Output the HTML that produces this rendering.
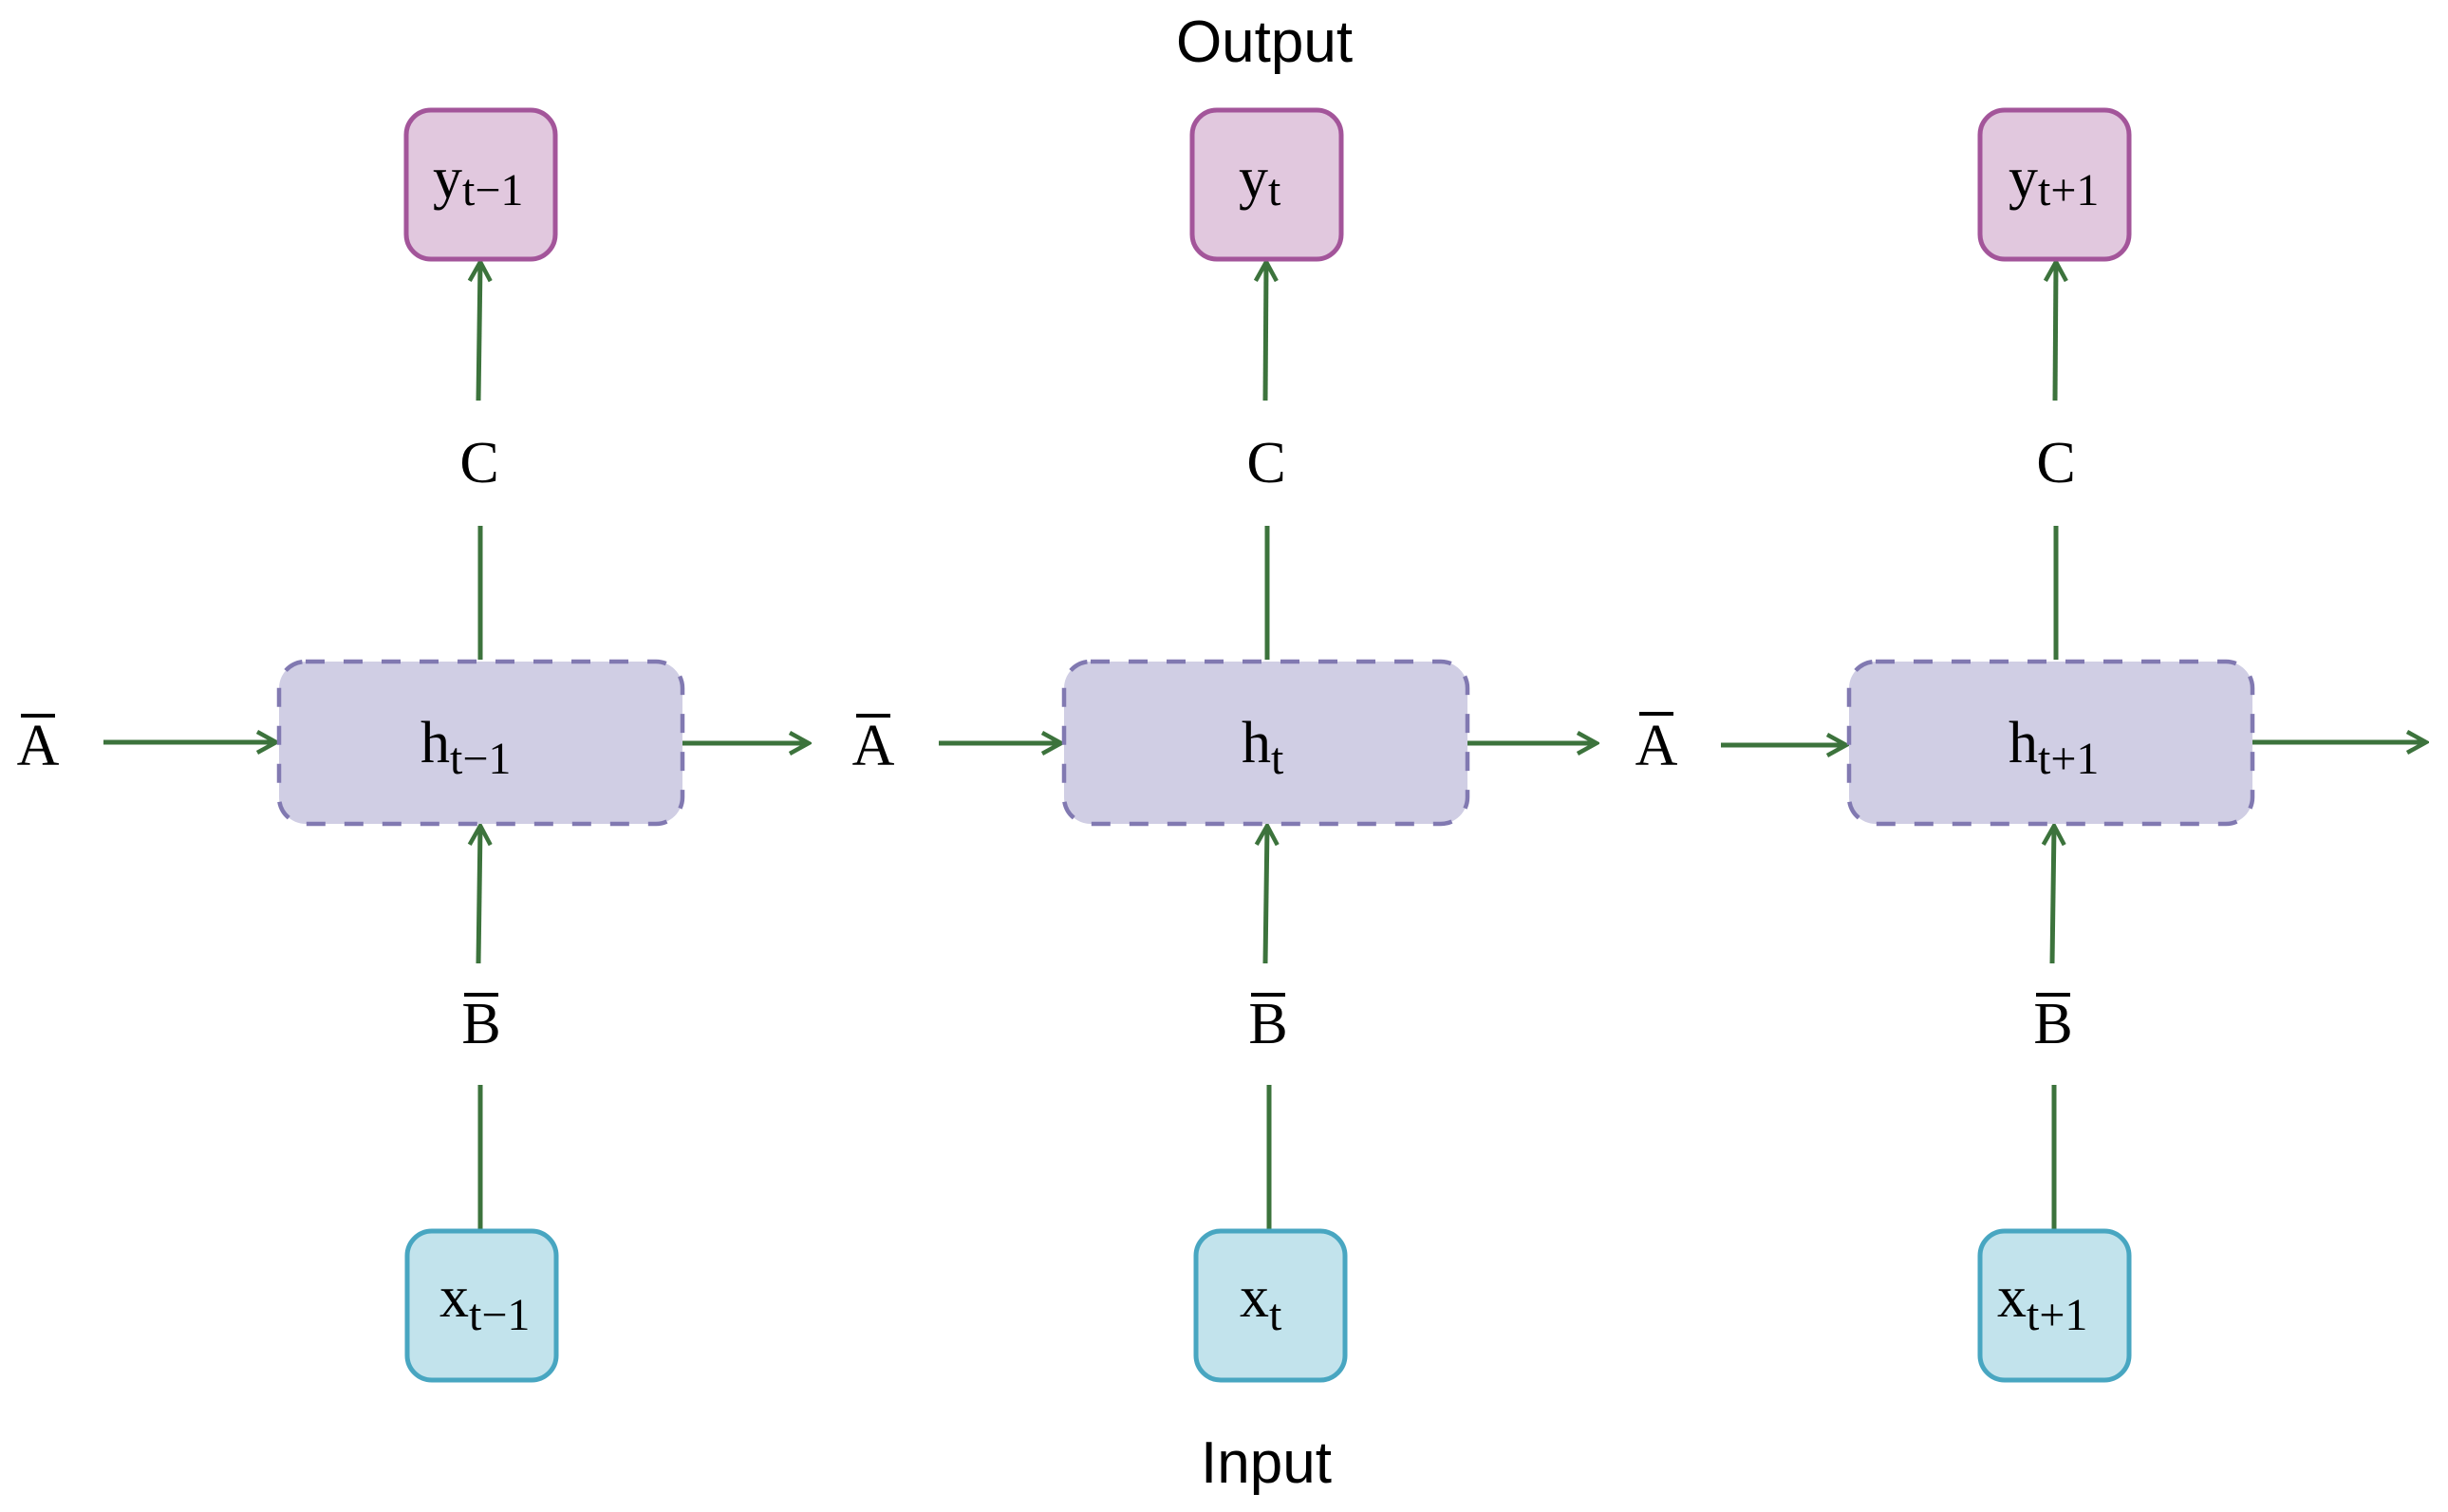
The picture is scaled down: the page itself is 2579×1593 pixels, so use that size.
<!DOCTYPE html>
<html><head><meta charset="utf-8"><style>
html,body{margin:0;padding:0;background:#fff;}
svg{display:block;}
.m{font-family:"Liberation Serif","DejaVu Serif",serif;fill:#000;}
.s{font-family:"Liberation Sans","DejaVu Sans",sans-serif;fill:#000;}
</style></head><body>
<svg width="2579" height="1593" viewBox="0 0 2579 1593" xmlns="http://www.w3.org/2000/svg">
<defs>
<marker id="ar" viewBox="0 0 26 26" refX="23" refY="13" markerWidth="26" markerHeight="26" markerUnits="userSpaceOnUse" orient="auto">
<path d="M3,2 L23,13 L3,24" fill="none" stroke="#3c733c" stroke-width="4.5"/>
</marker>
</defs>
<text class="s" x="1332" y="65" font-size="62" text-anchor="middle">Output</text>
<text class="s" x="1334" y="1562" font-size="62" text-anchor="middle">Input</text>
<g stroke="#3c733c" stroke-width="5" fill="none">
<line x1="504" y1="422" x2="506" y2="276" marker-end="url(#ar)"/>
<line x1="506" y1="554" x2="506" y2="695"/>
<line x1="504" y1="1015" x2="506" y2="870" marker-end="url(#ar)"/>
<line x1="506" y1="1143" x2="506" y2="1297"/>
<line x1="109" y1="782" x2="291" y2="782" marker-end="url(#ar)"/>
<line x1="719" y1="783" x2="852" y2="783" marker-end="url(#ar)"/>
<line x1="1333" y1="422" x2="1334" y2="276" marker-end="url(#ar)"/>
<line x1="1335" y1="554" x2="1335" y2="695"/>
<line x1="1333" y1="1015" x2="1335" y2="870" marker-end="url(#ar)"/>
<line x1="1337" y1="1143" x2="1337" y2="1297"/>
<line x1="989" y1="783" x2="1118" y2="783" marker-end="url(#ar)"/>
<line x1="1546" y1="783" x2="1682" y2="783" marker-end="url(#ar)"/>
<line x1="2165" y1="422" x2="2166" y2="276" marker-end="url(#ar)"/>
<line x1="2166" y1="554" x2="2166" y2="695"/>
<line x1="2162" y1="1015" x2="2164" y2="870" marker-end="url(#ar)"/>
<line x1="2164" y1="1143" x2="2164" y2="1297"/>
<line x1="1813" y1="785" x2="1945" y2="785" marker-end="url(#ar)"/>
<line x1="2373" y1="782" x2="2556" y2="782" marker-end="url(#ar)"/>
</g>
<g fill="#e1c8de" stroke="#a3559a" stroke-width="5">
<rect x="428" y="116" width="157" height="157" rx="26"/>
<rect x="1256" y="116" width="157" height="157" rx="26"/>
<rect x="2086" y="116" width="157" height="157" rx="26"/>
</g>
<g fill="#d0cee4" stroke="#8179b1" stroke-width="4.5" stroke-dasharray="20 20">
<rect x="294" y="697" width="425" height="171" rx="28"/>
<rect x="1121" y="697" width="425" height="171" rx="28"/>
<rect x="1948" y="697" width="425" height="171" rx="28"/>
</g>
<g fill="#c2e3ec" stroke="#48a6c1" stroke-width="5">
<rect x="429" y="1297" width="157" height="157" rx="26"/>
<rect x="1260" y="1297" width="157" height="157" rx="26"/>
<rect x="2086" y="1297" width="157" height="157" rx="26"/>
</g>
<g class="m" font-size="62">
<text x="456" y="208">y<tspan font-size="48" dy="8">t−1</tspan></text>
<text x="1305" y="208">y<tspan font-size="48" dy="8">t</tspan></text>
<text x="2116" y="208">y<tspan font-size="48" dy="8">t+1</tspan></text>
<text x="443" y="803">h<tspan font-size="48" dy="12">t−1</tspan></text>
<text x="1308" y="803">h<tspan font-size="48" dy="12">t</tspan></text>
<text x="2116" y="803">h<tspan font-size="48" dy="12">t+1</tspan></text>
<text x="463" y="1387">x<tspan font-size="48" dy="14">t−1</tspan></text>
<text x="1306" y="1387">x<tspan font-size="48" dy="14">t</tspan></text>
<text x="2104" y="1387">x<tspan font-size="48" dy="14">t+1</tspan></text>
<text x="505" y="508" text-anchor="middle">C</text>
<text x="1334" y="508" text-anchor="middle">C</text>
<text x="2166" y="508" text-anchor="middle">C</text>
<text x="507" y="1099" text-anchor="middle">B</text>
<text x="1336" y="1099" text-anchor="middle">B</text>
<text x="2163" y="1099" text-anchor="middle">B</text>
<text x="40" y="806" text-anchor="middle">A</text>
<text x="920" y="806" text-anchor="middle">A</text>
<text x="1745" y="806" text-anchor="middle">A</text>
</g>
<g stroke="#000" stroke-width="4">
<line x1="22" y1="754" x2="58" y2="754"/>
<line x1="902" y1="754" x2="938" y2="754"/>
<line x1="1727" y1="752" x2="1763" y2="752"/>
<line x1="489" y1="1048" x2="525" y2="1048"/>
<line x1="1318" y1="1048" x2="1354" y2="1048"/>
<line x1="2145" y1="1048" x2="2181" y2="1048"/>
</g>
</svg>
</body></html>
